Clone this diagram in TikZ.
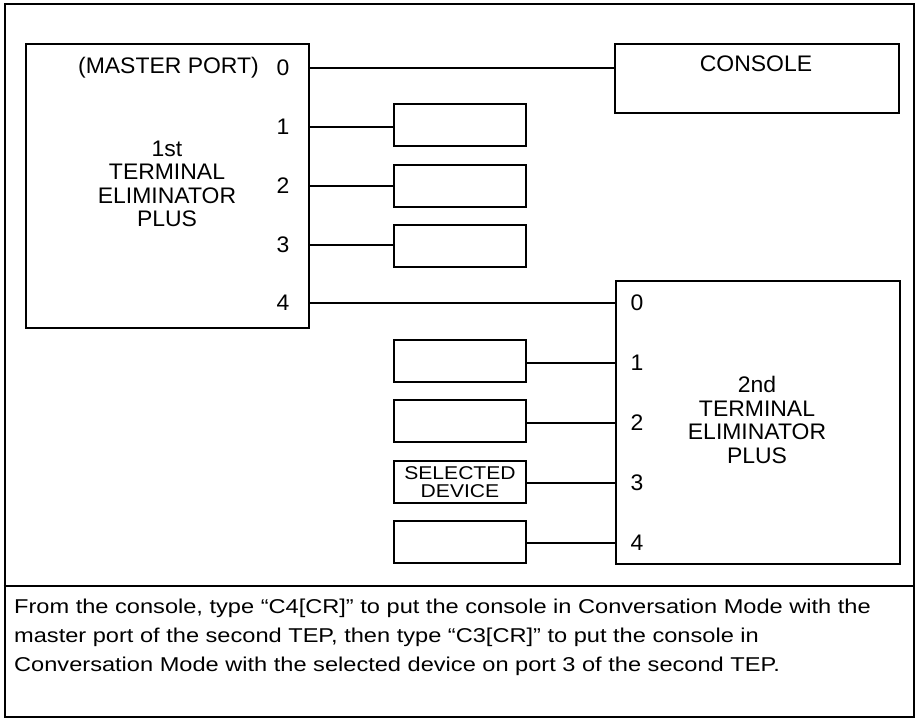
\documentclass[tikz,border=0pt]{standalone}
\usepackage{fontspec}
\setmainfont{Liberation Sans}
\newfontfamily\capfont{Liberation Sans}[FakeStretch=1.18]
\newfontfamily\devfont{Liberation Sans}[FakeStretch=1.14]
\newfontfamily\lblfont{Liberation Sans}[FakeStretch=1.02]
\begin{document}
\begin{tikzpicture}[x=1pt,y=-1pt,
  box/.style={draw, line width=2.2pt, inner sep=0pt, anchor=north west},
  dev/.style={draw, line width=2.2pt, inner sep=0pt, minimum width=132pt, minimum height=42pt},
  wire/.style={line width=2pt},
  lbl/.style={font=\lblfont\fontsize{22.5}{23.5}\selectfont, inner sep=0pt},
  frame/.style={draw, line width=2pt}]
\useasboundingbox (0,0) rectangle (916,719);
% outer frame and separator
\node[frame, inner sep=0pt, minimum width=909pt, minimum height=712pt, anchor=north west] (outer) at (3.5,3.5) {};
\coordinate (sepL) at (3.5,586);
\draw[line width=2pt] (sepL) -- (sepL -| outer.east);
% first TEP
\node[box, minimum width=283pt, minimum height=284pt] (tepA) at (25,43) {};
\node[lbl, align=center] (tepAtxt) at (167,184) {1st\\TERMINAL\\ELIMINATOR\\PLUS};
\node[lbl, anchor=east] (master) at (259,68) {(MASTER PORT)};
\foreach \i/\y in {0/68,1/127,2/186,3/245,4/303}{
  \node[lbl] (pa\i) at (283,\y) {\i};
  \coordinate (a\i) at (308,\y);
}
% console
\node[box, minimum width=284pt, minimum height=69pt] (console) at (614,43) {};
\node[lbl] (contxt) at (756,64) {CONSOLE};
% devices on first TEP
\foreach \i/\y in {1/125,2/186,3/246}{
  \node[dev] (d\i) at (460,\y) {};
}
% second TEP
\node[box, minimum width=284pt, minimum height=283pt] (tepB) at (615,280) {};
\node[lbl, align=center] (tepBtxt) at (757,420) {2nd\\TERMINAL\\ELIMINATOR\\PLUS};
\foreach \i/\y in {0/303,1/363,2/423,3/483,4/543}{
  \node[lbl] (pb\i) at (637,\y) {\i};
  \coordinate (b\i) at (615,\y);
}
% devices on second TEP
\node[dev] (e1) at (460,361) {};
\node[dev] (e2) at (460,421) {};
\node[dev, font=\devfont\fontsize{18.5}{17.5}\selectfont, align=center] (e3) at (460,482) {SELECTED\\DEVICE};
\node[dev] (e4) at (460,542) {};
% wires
\draw[wire] (a0) -- (console.west |- a0);
\draw[wire] (a1) -- (d1.west |- a1);
\draw[wire] (a2) -- (d2.west |- a2);
\draw[wire] (a3) -- (d3.west |- a3);
\draw[wire] (a4) -- (b0);
\draw[wire] (e1.east |- b1) -- (b1);
\draw[wire] (e2.east |- b2) -- (b2);
\draw[wire] (e3.east |- b3) -- (b3);
\draw[wire] (e4.east |- b4) -- (b4);
% caption
\node[anchor=north west, align=left, inner sep=0pt, font=\capfont\fontsize{20}{29}\selectfont] (caption) at (14,599)
 {From the console, type “C4[CR]” to put the console in Conversation Mode with the\\
  master port of the second TEP, then type “C3[CR]” to put the console in\\
  Conversation Mode with the selected device on port 3 of the second TEP.};
\end{tikzpicture}
\end{document}
